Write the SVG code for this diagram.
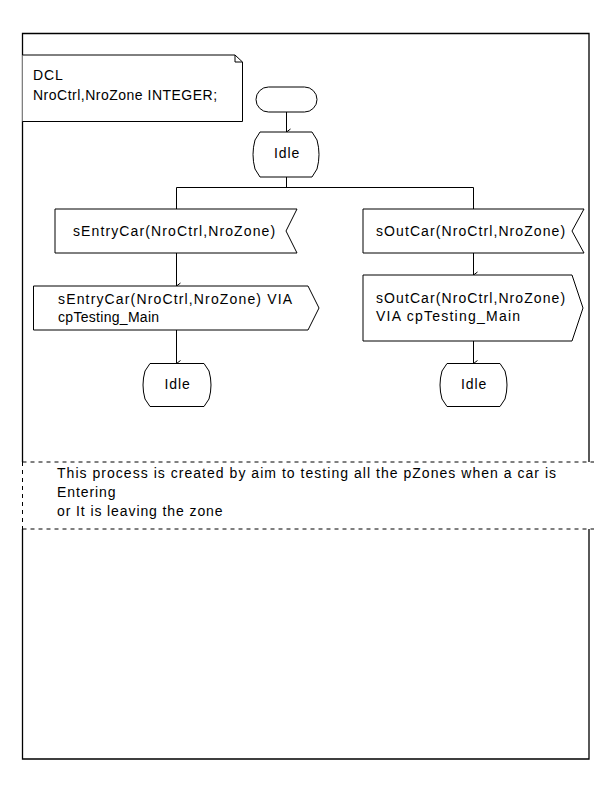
<svg xmlns="http://www.w3.org/2000/svg" width="612" height="792" viewBox="0 0 612 792">
  <style>
    .shape { fill: #ffffff; stroke: #000000; stroke-width: 1; }
    .frame { fill: none; stroke: #000000; stroke-width: 1.3; }
    .dash { fill: none; stroke: #000000; stroke-width: 1; stroke-dasharray: 4 4; }
    .line { fill: none; stroke: #000000; stroke-width: 1; }
    .txt { font-family: "Liberation Sans", Arial, sans-serif; font-size: 14px; fill: #000000; letter-spacing: 0.9px; }
    .mid { text-anchor: middle; }
  </style>
  <defs>
    <marker id="arrow" markerWidth="8" markerHeight="8" refX="4" refY="6" orient="auto" markerUnits="userSpaceOnUse" viewBox="0 0 8 8">
      <polyline points="1,2 4,6 7,2" fill="none" stroke="#000" stroke-width="1"/>
    </marker>
  </defs>
  <rect width="612" height="792" fill="#ffffff"/>

  <!-- process frame: upper and lower parts, with the dashed comment band between -->
  <g id="frame">
    <polyline class="frame" points="22.5,462 22.5,33.5 589,33.5 589,462"/>
    <polyline class="frame" points="22.5,529 22.5,759 589,759 589,529"/>
    <line class="dash" x1="22.5" y1="462" x2="594" y2="462"/>
    <line class="dash" x1="22.5" y1="529" x2="594" y2="529"/>
    <line class="dash" x1="22.5" y1="462" x2="22.5" y2="529"/>
  </g>

  <g id="comment">
    <text class="txt" x="57" y="478" textLength="500" lengthAdjust="spacing">This process is created by aim to testing all the pZones when a car is</text>
    <text class="txt" x="57" y="497">Entering</text>
    <text class="txt" x="57" y="516">or It is leaving the zone</text>
  </g>

  <g id="dcl">
    <path class="shape" d="M22.5,55 L235,55 L242.5,62 L242.5,121.5 L22.5,121.5"/>
    <polyline class="line" points="235,55 235,62 242.5,62"/>
    <text class="txt" x="33" y="80">DCL</text>
    <text class="txt" x="33" y="100" textLength="185" lengthAdjust="spacing">NroCtrl,NroZone INTEGER;</text>
  </g>

  <g id="connectors">
    <line class="line" x1="286.5" y1="112" x2="286.5" y2="132" marker-end="url(#arrow)"/>
    <line class="line" x1="286.5" y1="177" x2="286.5" y2="187.5"/>
    <line class="line" x1="176.5" y1="187.5" x2="473.5" y2="187.5"/>
    <line class="line" x1="176.5" y1="187.5" x2="176.5" y2="209"/>
    <line class="line" x1="473.5" y1="187.5" x2="473.5" y2="209"/>
    <line class="line" x1="176.5" y1="253" x2="176.5" y2="286" marker-end="url(#arrow)"/>
    <line class="line" x1="176.5" y1="330" x2="176.5" y2="363.5" marker-end="url(#arrow)"/>
    <line class="line" x1="473.5" y1="253" x2="473.5" y2="275" marker-end="url(#arrow)"/>
    <line class="line" x1="473.5" y1="341" x2="473.5" y2="363.5" marker-end="url(#arrow)"/>
  </g>

  <g id="start">
    <rect class="shape" x="256" y="87" width="61" height="25" rx="12.5" ry="12.5"/>
  </g>

  <g id="idle-top">
    <path class="shape" d="M260,132 L312,132 L317,140 Q321,154.5 317,169 L312,177 L260,177 L255,169 Q251,154.5 255,140 Z"/>
    <text class="txt mid" x="287" y="158">Idle</text>
  </g>

  <g id="input-entry">
    <path class="shape" d="M55,209 L297,209 L286,231 L297,253 L55,253 Z"/>
    <text class="txt" x="73" y="236" textLength="203" lengthAdjust="spacing">sEntryCar(NroCtrl,NroZone)</text>
  </g>

  <g id="input-out">
    <path class="shape" d="M363,209 L584,209 L572,231 L584,253 L363,253 Z"/>
    <text class="txt" x="376" y="236" textLength="190" lengthAdjust="spacing">sOutCar(NroCtrl,NroZone)</text>
  </g>

  <g id="output-entry">
    <path class="shape" d="M33.5,286 L308,286 L319,308 L308,330 L33.5,330 Z"/>
    <text class="txt" x="58" y="304" textLength="235" lengthAdjust="spacing">sEntryCar(NroCtrl,NroZone) VIA</text>
    <text class="txt" x="58" y="322" textLength="102" lengthAdjust="spacing">cpTesting_Main</text>
  </g>

  <g id="output-out">
    <path class="shape" d="M363,275 L572,275 L583,308 L572,341 L363,341 Z"/>
    <text class="txt" x="376" y="303" textLength="190" lengthAdjust="spacing">sOutCar(NroCtrl,NroZone)</text>
    <text class="txt" x="376" y="321" textLength="145" lengthAdjust="spacing">VIA cpTesting_Main</text>
  </g>

  <g id="idle-left">
    <path class="shape" d="M150,363.5 L204,363.5 L209,371 Q213,385 209,399 L204,406.5 L150,406.5 L145,399 Q141,385 145,371 Z"/>
    <text class="txt mid" x="177.5" y="389">Idle</text>
  </g>

  <g id="idle-right">
    <path class="shape" d="M447,363.5 L500,363.5 L505,371 Q509,385 505,399 L500,406.5 L447,406.5 L442,399 Q438,385 442,371 Z"/>
    <text class="txt mid" x="474" y="389">Idle</text>
  </g>
</svg>
